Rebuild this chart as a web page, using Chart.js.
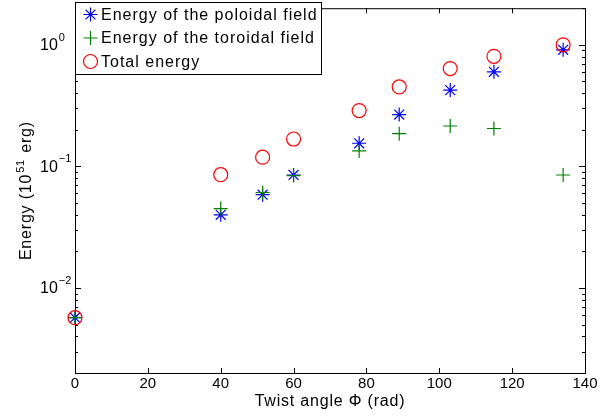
<!DOCTYPE html>
<html>
<head>
<meta charset="utf-8">
<script src="https://cdn.jsdelivr.net/npm/chart.js@4.4.0/dist/chart.umd.min.js"></script>
<style>
  html, body { margin: 0; padding: 0; background: #fff; }
  #wrap { width: 613px; height: 418px; }
</style>
</head>
<body>
<div id="wrap"><canvas id="myChart" width="613" height="418"></canvas></div>
<script>
// values
const twistAngle = [0, 40, 51.5, 60, 78, 89, 103, 115, 134];
const poloidalEnergy = [0.0057, 0.040, 0.0585, 0.085, 0.155, 0.267, 0.424, 0.60, 0.91];
const toroidalEnergy = [0.0057, 0.045, 0.061, 0.084, 0.134, 0.186, 0.215, 0.205, 0.085];
const totalEnergy = [0.0057, 0.0855, 0.119, 0.168, 0.288, 0.45, 0.638, 0.804, 1.0];

const seriesNames = ['Energy of the poloidal field', 'Energy of the toroidal field', 'Total energy'];
const xTicks = [0, 20, 40, 60, 80, 100, 120, 140];
const yTicks = [0.01, 0.1, 1];
const yTickExp = ['-2', '-1', '0'];

const FONT = '"Liberation Sans", Arial, Helvetica, sans-serif';

function toPoints(ys) {
    return twistAngle.map((x, i) => ({x: x, y: ys[i]}));
}

// draws the MATLAB style box, inward ticks and labels
const matlabAxes = {
    id: 'matlabAxes',
    beforeDatasetsDraw(chart) {
        const ctx = chart.ctx;
        const a = chart.chartArea;
        const xs = chart.scales.x;
        const ys = chart.scales.y;
        ctx.save();
        ctx.strokeStyle = '#000';
        ctx.lineWidth = 1;
        ctx.strokeRect(a.left + 0.5, a.top + 0.5, a.right - a.left, a.bottom - a.top);

        ctx.beginPath();
        for (const v of xTicks) {
            const px = Math.round(xs.getPixelForValue(v)) + 0.5;
            ctx.moveTo(px, a.bottom); ctx.lineTo(px, a.bottom - 5);
            ctx.moveTo(px, a.top); ctx.lineTo(px, a.top + 5);
        }
        // minor ticks on the log axis
        for (let k = -3; k <= 0; k++) {
            for (let m = 1; m <= 9; m++) {
                const v = m * Math.pow(10, k);
                if (v < ys.min || v > ys.max) continue;
                const len = m === 1 ? 6 : 3;
                const py = Math.round(ys.getPixelForValue(v)) + 0.5;
                ctx.moveTo(a.left, py); ctx.lineTo(a.left + len, py);
                ctx.moveTo(a.right, py); ctx.lineTo(a.right - len, py);
            }
        }
        ctx.stroke();

        ctx.fillStyle = '#000';
        ctx.font = '15px ' + FONT;
        ctx.textAlign = 'center';
        ctx.textBaseline = 'middle';
        for (const v of xTicks) {
            ctx.fillText(String(v), xs.getPixelForValue(v), 384);
        }

        ctx.textAlign = 'left';
        yTicks.forEach((v, i) => {
            const py = ys.getPixelForValue(v);
            ctx.font = '16px ' + FONT;
            ctx.textBaseline = 'middle';
            ctx.fillText('10', 40, py + 1);
            const w = ctx.measureText('10').width;
            ctx.font = '11px ' + FONT;
            ctx.fillText(yTickExp[i].replace('-', '\u2212'), 40 + w + 1, py - 7);
        });

        // axis titles
        ctx.font = '16px ' + FONT;
        ctx.letterSpacing = '0.8px';
        ctx.textAlign = 'center';
        ctx.fillText('Twist angle \u03A6 (rad)', (a.left + a.right) / 2, 402);

        ctx.translate(27, (a.top + a.bottom) / 2);
        ctx.rotate(-Math.PI / 2);
        const p1 = 'Energy (10', p2 = '51', p3 = ' erg)';
        ctx.font = '16px ' + FONT;
        const w1 = ctx.measureText(p1).width, w3 = ctx.measureText(p3).width;
        ctx.font = '11px ' + FONT;
        const w2 = ctx.measureText(p2).width + 2;
        let sx = -(w1 + w2 + w3) / 2;
        ctx.textAlign = 'left';
        ctx.font = '16px ' + FONT;
        ctx.fillText(p1, sx, 0);
        ctx.font = '11px ' + FONT;
        ctx.fillText(p2, sx + w1 + 1, -6);
        ctx.font = '16px ' + FONT;
        ctx.fillText(p3, sx + w1 + w2, 0);
        ctx.restore();
    },
    afterDatasetsDraw(chart) {
        const ctx = chart.ctx;
        ctx.save();
        ctx.fillStyle = '#fff';
        ctx.fillRect(75, 2, 246, 72);
        ctx.strokeStyle = '#000';
        ctx.lineWidth = 1;
        ctx.strokeRect(75.5, 2.5, 246, 72);
        const rows = [14.5, 38, 61.5];
        chart.data.datasets.forEach((ds, i) => {
            ctx.strokeStyle = ds.borderColor;
            ctx.fillStyle = 'rgba(0,0,0,0)';
            ctx.lineWidth = ds.borderWidth;
            Chart.helpers.drawPoint(ctx, {pointStyle: ds.pointStyle, radius: ds.pointRadius, rotation: 0, borderWidth: ds.borderWidth}, 90.5, rows[i]);
            ctx.fillStyle = '#000';
            ctx.font = '16px ' + FONT;
            ctx.letterSpacing = '1px';
            ctx.textAlign = 'left';
            ctx.textBaseline = 'middle';
            ctx.fillText(seriesNames[i], 101, rows[i] + 1);
        });
        ctx.restore();
    }
};

new Chart(document.getElementById('myChart').getContext('2d'), {
    type: 'scatter',
    data: {
        datasets: [{
            label: seriesNames[0],
            data: toPoints(poloidalEnergy),
            pointStyle: 'star',
            pointRadius: 7,
            borderColor: 'rgb(0, 0, 255)',
            backgroundColor: 'rgba(0,0,0,0)',
            borderWidth: 1.2,
            clip: false,
            order: 3
        }, {
            label: seriesNames[1],
            data: toPoints(toroidalEnergy),
            pointStyle: 'cross',
            pointRadius: 7,
            borderColor: 'rgb(0, 128, 0)',
            backgroundColor: 'rgba(0,0,0,0)',
            borderWidth: 1.2,
            clip: false,
            order: 2
        }, {
            label: seriesNames[2],
            data: toPoints(totalEnergy),
            pointStyle: 'circle',
            pointRadius: 7,
            borderColor: 'rgb(255, 0, 0)',
            backgroundColor: 'rgba(0,0,0,0)',
            borderWidth: 1.2,
            clip: false,
            order: 1
        }]
    },
    options: {
        responsive: false,
        animation: false,
        events: [],
        layout: {padding: {left: 75, right: 28, top: 3, bottom: 45}},
        scales: {
            x: {type: 'linear', min: 0, max: 140, display: false},
            y: {type: 'logarithmic', min: 0.002, max: 2, display: false}
        },
        plugins: {
            legend: {display: false},
            tooltip: {enabled: false}
        }
    },
    plugins: [matlabAxes]
});
</script>
</body>
</html>
